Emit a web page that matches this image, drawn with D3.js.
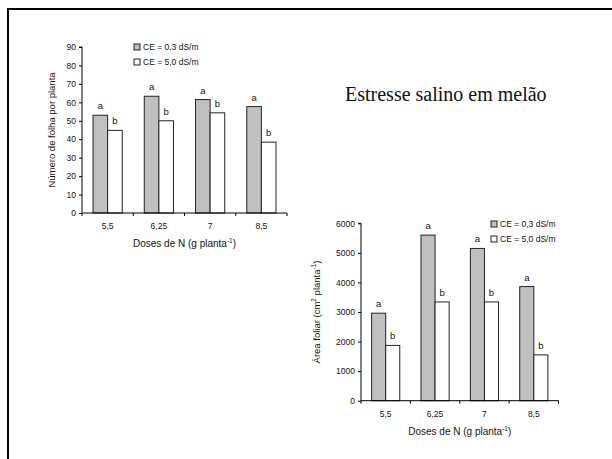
<!DOCTYPE html>
<html>
<head>
<meta charset="utf-8">
<script src="https://cdn.jsdelivr.net/npm/d3@7"></script>
<style>
  body { margin: 0; background: #fff; }
  svg text { font-family: "Liberation Sans", Arial, sans-serif; fill: #111; }
  .title { font-family: "Liberation Serif", "Times New Roman", serif; }
</style>
</head>
<body>
<svg id="slide" width="612" height="459"></svg>
<script>
"use strict";

// data
var doses = ["5,5", "6,25", "7", "8,5"];
var series = ["CE = 0,3 dS/m", "CE = 5,0 dS/m"];
var folhasLow = [53, 63.3, 61.5, 57.7];
var folhasHigh = [44.8, 50, 54.3, 38.4];
var areaLow = [2960, 5600, 5150, 3860];
var areaHigh = [1870, 3340, 3340, 1550];
var lettersLow = ["a", "a", "a", "a"];
var lettersHigh = ["b", "b", "b", "b"];
var folhasTicks = [0, 10, 20, 30, 40, 50, 60, 70, 80, 90];
var areaTicks = [0, 1000, 2000, 3000, 4000, 5000, 6000];
var fills = ["#c0c0c0", "#ffffff"];

var svg = d3.select("#slide");

// slide frame
svg.append("rect")
    .attr("x", 8).attr("y", 9)
    .attr("width", 700).attr("height", 600)
    .attr("fill", "none")
    .attr("stroke", "#000")
    .attr("stroke-width", 2);

svg.append("text")
    .attr("class", "title")
    .attr("x", 345).attr("y", 101)
    .style("font-size", "20px")
    .text("Estresse salino em melão");

function drawChart(opt) {
    var x = d3.scaleBand()
        .domain(doses)
        .range([opt.left, opt.right])
        .paddingInner(0.43)
        .paddingOuter(0.215);

    var xs = d3.scaleBand()
        .domain(series)
        .range([0, x.bandwidth()]);

    var y = d3.scaleLinear()
        .domain([0, opt.max])
        .range([opt.bottom, opt.top]);

    var g = svg.append("g");

    // bars
    var rows = doses.map(function (d, i) {
        return [
            { dose: d, s: series[0], v: opt.low[i], l: lettersLow[i], f: fills[0] },
            { dose: d, s: series[1], v: opt.high[i], l: lettersHigh[i], f: fills[1] }
        ];
    });
    var flat = [].concat.apply([], rows);

    g.selectAll("rect.bar")
        .data(flat)
        .enter()
        .append("rect")
        .attr("class", "bar")
        .attr("x", function (d) { return x(d.dose) + xs(d.s); })
        .attr("y", function (d) { return y(d.v); })
        .attr("width", xs.bandwidth())
        .attr("height", function (d) { return opt.bottom - y(d.v); })
        .attr("fill", function (d) { return d.f; })
        .attr("stroke", "#222")
        .attr("stroke-width", 1);

    g.selectAll("text.letter")
        .data(flat)
        .enter()
        .append("text")
        .attr("class", "letter")
        .attr("x", function (d) { return x(d.dose) + xs(d.s) + xs.bandwidth() / 2; })
        .attr("y", function (d) { return y(d.v) - 6; })
        .attr("text-anchor", "middle")
        .style("font-size", "9.5px")
        .text(function (d) { return d.l; });

    // y axis
    var yAxis = d3.axisLeft(y)
        .tickValues(opt.ticks)
        .tickSize(3)
        .tickPadding(3)
        .tickFormat(d3.format("d"));
    var ya = g.append("g")
        .attr("transform", "translate(" + opt.left + ",0)")
        .call(yAxis);
    ya.select(".domain").attr("d", "M-3," + opt.top + "H0V" + opt.bottom);

    // x axis, ticks on the category boundaries
    var step = x.step();
    var bounds = doses.map(function (d) { return x(d) - x.paddingInner() * step / 2; });
    bounds.push(opt.right);
    var xa = g.append("g")
        .attr("transform", "translate(0," + opt.bottom + ")");
    xa.append("path")
        .attr("d", "M" + opt.left + ",0H" + opt.right)
        .attr("stroke", "#000")
        .attr("fill", "none");
    xa.selectAll("line.tk")
        .data(bounds)
        .enter()
        .append("line")
        .attr("x1", function (d) { return d; })
        .attr("x2", function (d) { return d; })
        .attr("y1", 0).attr("y2", 3)
        .attr("stroke", "#000");
    xa.selectAll("text.lab")
        .data(doses)
        .enter()
        .append("text")
        .attr("x", function (d) { return x(d) + x.bandwidth() / 2; })
        .attr("y", 16)
        .attr("text-anchor", "middle")
        .style("font-size", "8.5px")
        .text(function (d) { return d; });

    g.selectAll(".tick text").style("font-size", "8.5px").attr("fill", "#111");
    g.selectAll(".tick line, .domain").attr("stroke", "#000");

    // axis titles
    var xt = g.append("text")
        .attr("x", (opt.left + opt.right) / 2)
        .attr("y", opt.bottom + 34)
        .attr("text-anchor", "middle")
        .style("font-size", "10px");
    xt.append("tspan").text("Doses de N (g planta");
    xt.append("tspan").attr("dy", -4).style("font-size", "6.5px").text("-1");
    xt.append("tspan").attr("dy", 4).text(")");

    var yt = g.append("text")
        .attr("transform", "translate(" + opt.ytX + "," + (opt.top + opt.bottom) / 2 + ")rotate(-90)")
        .attr("text-anchor", "middle")
        .style("font-size", "9.5px");
    opt.yTitle.forEach(function (p) {
        var t = yt.append("tspan").text(p[0]);
        if (p[1]) t.attr("dy", -4).style("font-size", "6.5px");
        if (p[2]) t.attr("dy", 4);
    });

    // legend
    var lg = g.append("g")
        .attr("transform", "translate(" + opt.legX + "," + opt.legY + ")");
    series.forEach(function (s, i) {
        lg.append("rect")
            .attr("x", 0).attr("y", i * 15 - 3)
            .attr("width", 6).attr("height", 6)
            .attr("fill", fills[i])
            .attr("stroke", "#222");
        lg.append("text")
            .attr("x", 9).attr("y", i * 15 + 3)
            .style("font-size", "8.5px")
            .text(s);
    });
}

drawChart({
    left: 82, right: 287, top: 47, bottom: 213,
    max: 90, ticks: folhasTicks,
    low: folhasLow, high: folhasHigh,
    ytX: 55,
    yTitle: [["Número de folha por planta"]],
    legX: 134, legY: 47
});

drawChart({
    left: 361, right: 558.5, top: 223.3, bottom: 400.7,
    max: 6000, ticks: areaTicks,
    low: areaLow, high: areaHigh,
    ytX: 320,
    yTitle: [["Área foliar (cm"], ["2", true], [" planta", false, true], ["-1", true], [")", false, true]],
    legX: 491, legY: 224
});
</script>
</body>
</html>
